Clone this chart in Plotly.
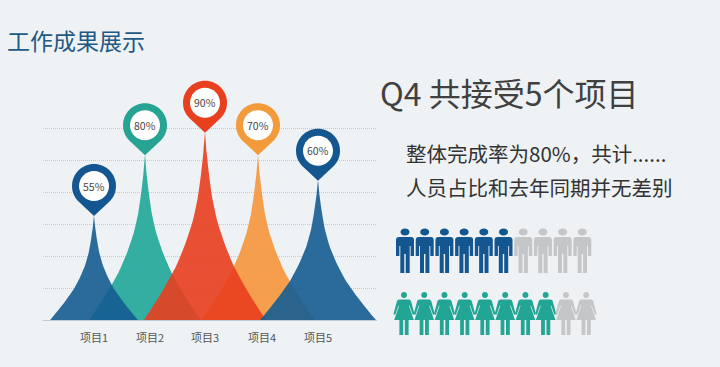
import plotly.graph_objects as go

W, H = 720, 367
FONT = "Noto Sans CJK SC"
BG = "#eef2f4"

categories = ["项目1", "项目2", "项目3", "项目4", "项目5"]
percent_labels = ["55%", "80%", "90%", "70%", "60%"]
label_x = [94, 150, 205, 262, 318]
peak_x = [94, 145, 205, 258, 318]
peak_height = [3.25, 5.15, 5.85, 5.15, 4.35]
half_base = [44, 56, 61, 57, 58]
fill_colors = ["rgba(20,92,146,0.9)", "rgba(35,168,152,0.92)", "rgba(232,62,30,0.9)",
               "rgba(245,150,60,0.9)", "rgba(20,92,146,0.9)"]
pin_colors = ["#14568f", "#27a394", "#e8401f", "#f39a3a", "#14568f"]
draw_order = [1, 3, 0, 2, 4]

# read-off outline of the peak: share of half width / share of height
outline_w = [0.0, 0.025, 0.065, 0.12, 0.20, 0.33, 0.47, 0.67, 0.80, 0.91, 1.0]
outline_h = [1.0, 0.90, 0.78, 0.65, 0.53, 0.40, 0.29, 0.17, 0.10, 0.044, 0.0]

grid_levels = [1, 2, 3, 4, 5, 6]

men_colored, men_total = 6, 10
women_colored, women_total = 8, 10
men_color, women_color, gray = "#14568f", "#23a595", "#c4c6c7"

MAN = ("M-4.7,0 L-0.7,0 L-0.7,19 L0.7,19 L0.7,0 L4.7,0 L4.7,27 L5.6,27 L5.6,17 L9,17 L9,33 "
       "Q9,36 6,36 L-6,36 Q-9,36 -9,33 L-9,17 L-5.6,17 L-5.6,27 L-4.7,27 Z "
       "M-4.5,41 C-4.5,43 -2.5,44.5 0,44.5 C2.5,44.5 4.5,43 4.5,41 C4.5,39 2.5,37.5 0,37.5 C-2.5,37.5 -4.5,39 -4.5,41 Z")
WOMAN = ("M-5,35.5 L5,35.5 Q6.5,35.5 7,34 L10.5,21 L8.8,20 L5.5,29.5 L5,29 L9.8,15 L4.6,15 L4.6,0 L0.8,0 L0.8,15 "
         "L-0.8,15 L-0.8,0 L-4.6,0 L-4.6,15 L-9.8,15 L-5,29 L-5.5,29.5 L-8.8,20 L-10.5,21 L-7,34 Q-6.5,35.5 -5,35.5 Z "
         "M-3,40 C-3,41.7 -1.7,43 0,43 C1.7,43 3,41.7 3,40 C3,38.3 1.7,37 0,37 C-1.7,37 -3,38.3 -3,40 Z")
# pin: tip at origin, circle of radius 22 centred 30 px above
PIN = ("M0,0 L-16,15 C-19.5,18.5 -22,24 -22,30 C-22,42.2 -12.2,52 0,52 C12.2,52 22,42.2 22,30 "
       "C22,24 19.5,18.5 16,15 Z")
DISC = "M-15,30 C-15,38.3 -8.3,45 0,45 C8.3,45 15,38.3 15,30 C15,21.7 8.3,15 0,15 C-8.3,15 -15,21.7 -15,30 Z"

fig = go.Figure()
shapes, annotations = [], []

for i in draw_order:
    left = [peak_x[i] - half_base[i] * w for w in reversed(outline_w)]
    right = [peak_x[i] + half_base[i] * w for w in outline_w[1:]]
    ys = [peak_height[i] * h for h in reversed(outline_h)] + [peak_height[i] * h for h in outline_h[1:]]
    fig.add_trace(go.Scatter(x=left + right, y=ys, mode="lines", fill="toself",
                             fillcolor=fill_colors[i], line=dict(width=0, shape="spline", smoothing=0.5),
                             hoverinfo="skip", showlegend=False, name=categories[i]))

for i in range(5):
    for path, col in ((PIN, pin_colors[i]), (DISC, "#ffffff")):
        shapes.append(dict(type="path", xref="x", yref="y", xsizemode="pixel", ysizemode="pixel",
                           xanchor=peak_x[i], yanchor=peak_height[i], path=path,
                           fillcolor=col, line=dict(width=0), layer="above"))
    annotations.append(dict(x=peak_x[i], y=peak_height[i], xref="x", yref="y", yshift=30, showarrow=False,
                            text=percent_labels[i], font=dict(family=FONT, size=10.5, color="#444444")))

for row, (xa, ya, total, colored, col, path) in enumerate(
        [("x2", "y2", men_total, men_colored, men_color, MAN),
         ("x3", "y3", women_total, women_colored, women_color, WOMAN)]):
    idx = list(range(1, total + 1))
    fig.add_trace(go.Scatter(x=idx, y=[0] * total, xaxis=xa, yaxis=ya, mode="markers",
                             marker=dict(size=1, opacity=0), hoverinfo="skip", showlegend=False))
    for k in idx:
        shapes.append(dict(type="path", xref=xa, yref=ya, xsizemode="pixel", ysizemode="pixel",
                           xanchor=k, yanchor=0, path=path,
                           fillcolor=col if k <= colored else gray, line=dict(width=0), layer="above"))


def note(text, x, y, size, color):
    annotations.append(dict(text=text, x=x / W, y=1 - y / H, xref="paper", yref="paper",
                            xanchor="left", yanchor="middle", showarrow=False,
                            font=dict(family=FONT, size=size, color=color)))


note("工作成果展示", 5, 40, 23, "#1f5a85")
note("Q4 共接受5个项目", 378, 92, 32, "#404040")
note("整体完成率为80%，共计......", 404, 153, 20.5, "#333333")
note("人员占比和去年同期并无差别", 404, 187, 20.5, "#333333")

hidden = dict(visible=False, fixedrange=True)
fig.update_layout(
    width=W, height=H, margin=dict(l=0, r=0, t=0, b=0), autosize=False,
    paper_bgcolor=BG, plot_bgcolor="rgba(0,0,0,0)", showlegend=False,
    shapes=shapes, annotations=annotations,
    xaxis=dict(domain=[43 / W, 377 / W], range=[43, 377], tickvals=label_x, ticktext=categories,
               showgrid=False, zeroline=False, showline=True, linecolor="#b9cbd8", linewidth=1,
               ticks="", ticklabelstandoff=8, tickfont=dict(family=FONT, size=11, color="#555555"), fixedrange=True),
    yaxis=dict(domain=[47 / H, 1], range=[0, 10], tickvals=grid_levels, showticklabels=False, ticks="",
               showgrid=True, gridcolor="#c6cacd", griddash="1px,1px", gridwidth=1, zeroline=False, fixedrange=True),
    xaxis2=dict(domain=[385 / W, 605 / W], range=[-0.015, 11.15], anchor="y2", **hidden),
    yaxis2=dict(domain=[(H - 273) / H, (H - 225) / H], range=[0, 1], anchor="x2", **hidden),
    xaxis3=dict(domain=[385 / W, 605 / W], range=[0.062, 10.93], anchor="y3", **hidden),
    yaxis3=dict(domain=[(H - 335) / H, (H - 290) / H], range=[0, 1], anchor="x3", **hidden),
)
fig.write_html("out.html", config={"displayModeBar": False}, post_script=(
    "document.body.style.margin='0';document.body.style.overflow='hidden';"
    f"document.body.style.background='{BG}';"))
